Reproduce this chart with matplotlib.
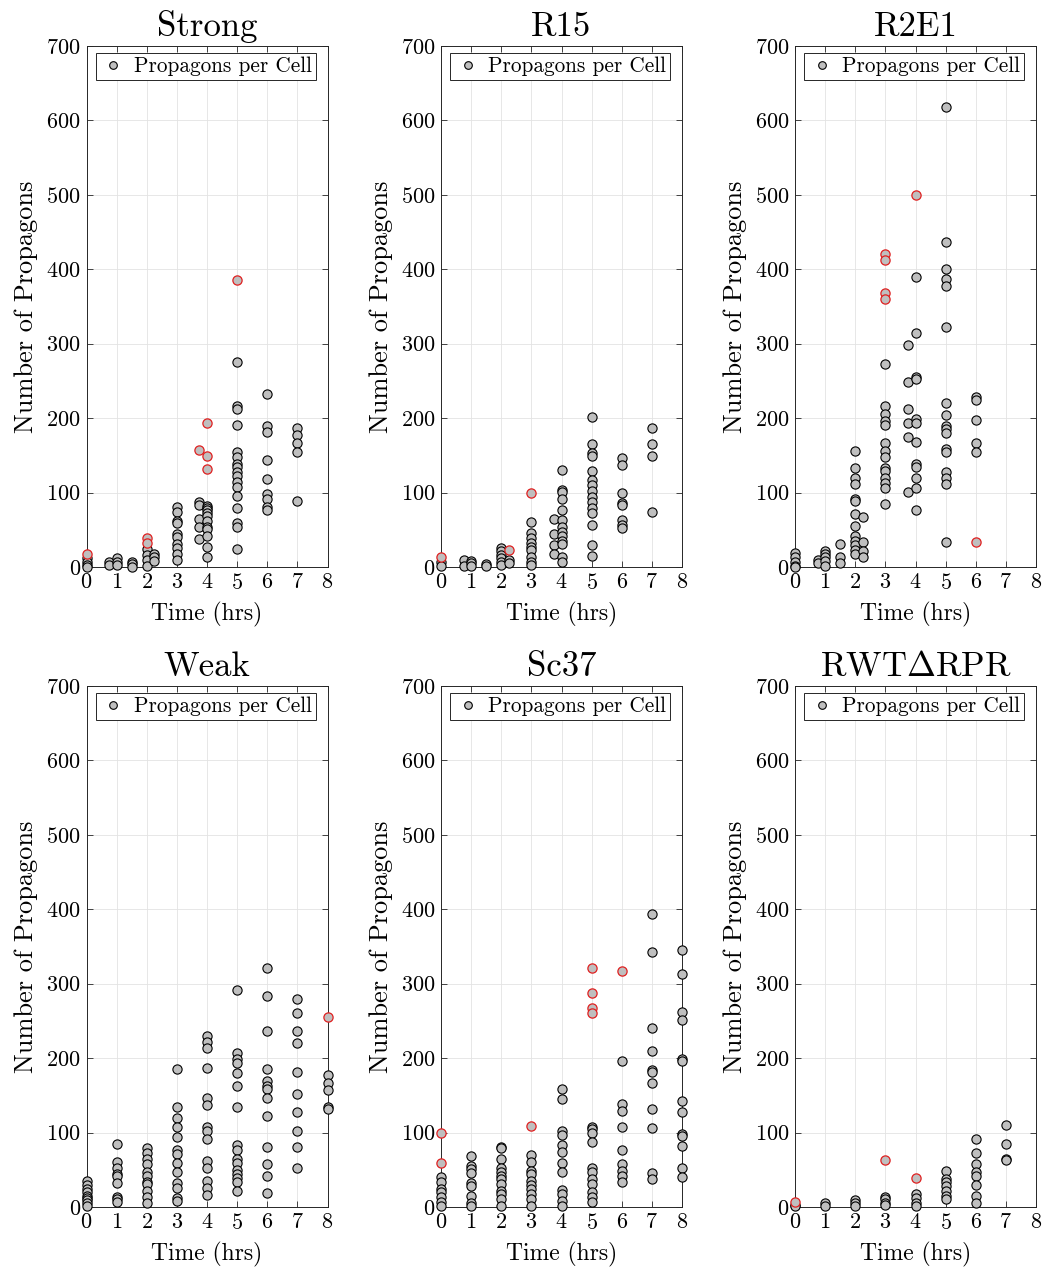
import matplotlib
matplotlib.use("Agg")
import matplotlib.pyplot as plt
from matplotlib.lines import Line2D

plt.rcParams['font.family'] = 'serif'
plt.rcParams['font.serif'] = ['cmr10']
plt.rcParams['mathtext.fontset'] = 'cm'
plt.rcParams['axes.formatter.use_mathtext'] = True

# counts per time point (hrs); *_red are the outliers drawn with a red edge
strong = {0: [12, 7, 3, 0], 0.75: [7, 3], 1: [12, 7, 3], 1.5: [7, 4, 0],
          2: [24, 16, 9, 1], 2.25: [18, 14, 8],
          3: [80, 74, 62, 59, 44, 40, 31, 26, 17, 9],
          3.75: [88, 83, 64, 54, 37],
          4: [82, 79, 76, 72, 68, 62, 54, 51, 41, 27, 14],
          5: [275, 216, 212, 191, 155, 148, 138, 134, 128, 122, 114, 108, 95, 79, 59, 54, 24],
          6: [233, 189, 181, 144, 118, 98, 91, 81, 76],
          7: [187, 178, 166, 155, 89]}
strong_red = {0: [17], 2: [39, 32], 3.75: [157], 4: [194, 149, 131], 5: [386]}

r15 = {0: [7, 1], 0.75: [10, 1], 1: [8, 5, 1], 1.5: [4, 1],
       2: [25, 21, 16, 12, 7, 3], 2.25: [9, 5],
       3: [61, 46, 39, 32, 27, 23, 14, 7, 3],
       3.75: [65, 44, 30, 18],
       4: [130, 104, 101, 92, 76, 63, 54, 47, 41, 35, 31, 13, 7],
       5: [201, 165, 153, 149, 129, 117, 110, 102, 94, 88, 79, 72, 57, 30, 15],
       6: [146, 137, 100, 86, 83, 63, 57, 52],
       7: [187, 165, 149, 74]}
r15_red = {0: [14], 2.25: [23], 3: [100]}

r2e1 = {0: [19, 13, 7, 2, 0], 0.75: [9, 5], 1: [22, 17, 13, 8, 1], 1.5: [31, 14, 5],
        2: [156, 133, 119, 112, 92, 89, 71, 55, 42, 35, 30, 23, 17],
        2.25: [67, 33, 21, 14],
        3: [273, 216, 206, 196, 191, 167, 156, 148, 133, 129, 119, 113, 106, 85],
        3.75: [298, 249, 212, 194, 175, 101],
        4: [389, 314, 255, 253, 199, 194, 168, 139, 134, 119, 106, 76],
        5: [618, 437, 401, 387, 378, 322, 221, 204, 190, 186, 180, 158, 155, 127, 120, 111, 33],
        6: [228, 224, 197, 166, 155]}
r2e1_red = {3: [421, 413, 368, 360], 4: [500], 6: [34]}

weak = {0: [35, 30, 24, 20, 15, 12, 9, 5, 1],
        1: [85, 60, 52, 44, 41, 32, 14, 11, 7],
        2: [79, 72, 65, 58, 47, 41, 34, 31, 22, 13, 5],
        3: [185, 134, 120, 107, 94, 77, 71, 59, 47, 32, 26, 12, 8],
        4: [230, 222, 213, 187, 146, 137, 107, 102, 91, 62, 52, 35, 26, 16],
        5: [291, 207, 199, 194, 180, 163, 135, 83, 76, 65, 59, 50, 44, 39, 34, 22],
        6: [321, 284, 237, 185, 169, 162, 159, 146, 122, 80, 58, 42, 19],
        7: [279, 261, 236, 221, 181, 152, 128, 102, 81, 52],
        8: [178, 167, 157, 134, 131]}
weak_red = {8: [255]}

sc37 = {0: [40, 34, 24, 20, 13, 7, 2],
        1: [68, 55, 51, 46, 32, 28, 15, 5, 1],
        2: [80, 79, 64, 52, 47, 42, 38, 31, 22, 17, 11, 2],
        3: [70, 61, 49, 44, 35, 30, 24, 17, 11, 2],
        4: [159, 145, 102, 97, 83, 74, 59, 47, 23, 17, 8, 1],
        5: [108, 105, 100, 87, 53, 47, 38, 31, 20, 13, 7],
        6: [196, 138, 129, 107, 77, 58, 49, 42, 33],
        7: [394, 342, 240, 210, 184, 181, 167, 131, 106, 46, 38],
        8: [345, 313, 262, 251, 199, 196, 142, 127, 98, 95, 82, 53, 40]}
sc37_red = {0: [99, 59], 3: [109], 5: [321, 287, 268, 261], 6: [317]}

rwt = {0: [3, 1], 1: [5, 2], 2: [9, 5, 2], 3: [14, 11, 6, 3],
       4: [17, 12, 5, 2], 5: [49, 38, 33, 28, 21, 15, 11],
       6: [92, 72, 58, 47, 42, 29, 15, 5], 7: [110, 84, 65, 63]}
rwt_red = {0: [7], 3: [63], 4: [39]}

titles = ['Strong', 'R15', 'R2E1', 'Weak', 'Sc37', r'RWT$\Delta$RPR']
panels = [(strong, strong_red), (r15, r15_red), (r2e1, r2e1_red),
          (weak, weak_red), (sc37, sc37_red), (rwt, rwt_red)]

fill = '#bfbfbf'
W, H = 1053, 1268
fig = plt.figure(figsize=(W / 100, H / 100), dpi=100)

lefts = [86.5, 441, 795]
tops = [46, 686]
aw, ah = 241, 521

for i, (title, (gray, red)) in enumerate(zip(titles, panels)):
    l = lefts[i % 3]
    t = tops[i // 3]
    ax = fig.add_axes([l / W, 1 - (t + ah) / H, aw / W, ah / H])

    gx = [k for k, v in gray.items() for _ in v]
    gy = [y for v in gray.values() for y in v]
    rx = [k for k, v in red.items() for _ in v]
    ry = [y for v in red.values() for y in v]
    ax.scatter(gx, gy, s=44, c=fill, edgecolors='black', linewidths=0.8,
               zorder=3, clip_on=False)
    ax.scatter(rx, ry, s=44, c=fill, edgecolors='#e02020', linewidths=0.9,
               zorder=4, clip_on=False)

    ax.set_xlim(0, 8)
    ax.set_ylim(0, 700)
    ax.set_xticks(range(0, 9))
    ax.set_yticks(range(0, 701, 100))
    ax.grid(True, color='#e3e3e3', linewidth=0.6)
    ax.set_axisbelow(True)
    ax.tick_params(direction='in', top=True, right=True, length=4,
                   width=0.6, color='#262626', labelsize=16, pad=4)
    for sp in ax.spines.values():
        sp.set_color('#262626')
        sp.set_linewidth(0.7)

    ax.set_title(title, fontsize=25, pad=7)
    ax.set_xlabel('Time (hrs)', fontsize=17, labelpad=7)
    ax.set_ylabel('Number of Propagons', fontsize=19, labelpad=6)

    handle = Line2D([], [], linestyle='none', marker='o', markersize=5.5,
                    markerfacecolor=fill, markeredgecolor='black',
                    markeredgewidth=0.8)
    leg = ax.legend([handle], ['Propagons per Cell'], loc='upper right',
                    bbox_to_anchor=(1 - 12 / aw, 1 - 7 / ah),
                    fontsize=15.3, fancybox=False, framealpha=1,
                    edgecolor='#262626', borderaxespad=0,
                    handletextpad=0.33, handlelength=1.27, borderpad=0.18)
    leg.get_frame().set_linewidth(0.7)

fig.savefig('out.png', dpi=100)
